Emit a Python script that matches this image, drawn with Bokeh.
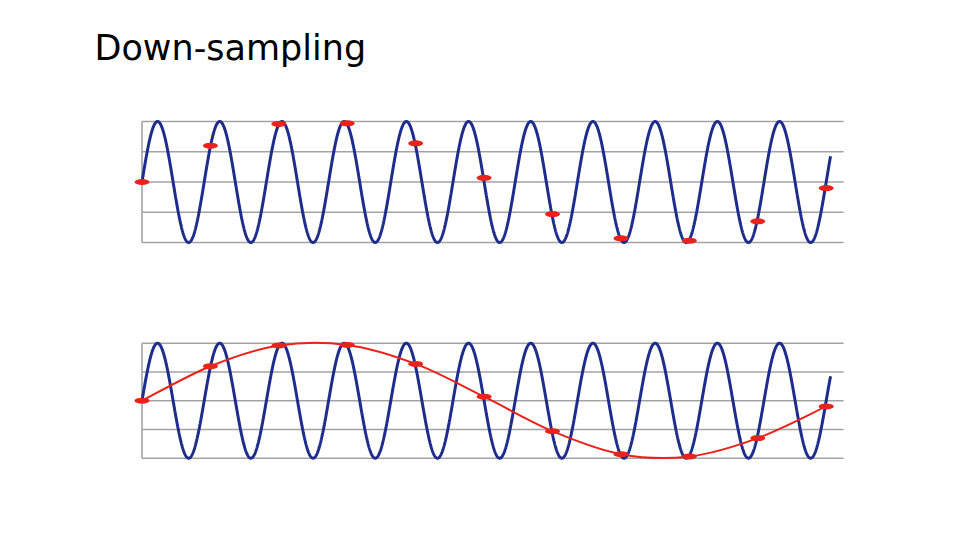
import numpy as np
from bokeh.plotting import figure
from bokeh.models import Range1d, Label
from bokeh.embed import file_html
from bokeh.resources import INLINE

# ---------------- data ----------------
title_text = "Down-sampling"
signal_cycles = 11.07          # length of the blue sine wave, in cycles (amplitude 1)
sample_t = [0.0, 1.1, 2.2, 3.3, 4.4, 5.5, 6.6, 7.7, 8.8, 9.9, 11.0]   # sample times (cycles)
sample_y = [0.0, 0.6, 0.96, 0.97, 0.64, 0.07, -0.53, -0.93, -0.97, -0.65, -0.1]
grid_y = [-1.0, -0.5, 0.0, 0.5, 1.0]
axis_x_end = 11.28

# ---------------- layout (screen pixels) ----------------
W, H, M = 944, 524, 0      # M: canvas offset on the page as observed
x0_px, px_per_cycle = 141.5, 62.2
top_hi_px, top_lo_px = 121.0, 242.0
bot_hi_px, bot_lo_px = 342.7, 457.7

BLUE = "#1e2d8c"
RED = "#e8231b"
GRID = "#a3a3a3"


def yrange(hi_px, lo_px):
    s = (lo_px - hi_px) / 2.0
    c = (hi_px + lo_px) / 2.0
    return Range1d(-(M + H - c) / s, (c - M) / s)


x_start = -(x0_px - M) / px_per_cycle
p = figure(width=W, height=H, output_backend="svg", toolbar_location=None,
           x_axis_type=None, y_axis_type=None, min_border=0,
           x_range=Range1d(x_start, x_start + W / px_per_cycle),
           y_range=yrange(top_hi_px, top_lo_px))
p.extra_y_ranges = {"lower": yrange(bot_hi_px, bot_lo_px)}
p.outline_line_color = None
p.background_fill_color = "white"
p.border_fill_color = "white"

t = np.linspace(0, signal_cycles, 3000)
wave = np.sin(2 * np.pi * t)

bez = {k: [] for k in ["x0", "y0", "x1", "y1", "cx0", "cy0", "cx1", "cy1"]}
n = len(sample_t)
for i in range(n - 1):
    a = max(i - 1, 0)
    d = min(i + 2, n - 1)
    bez["x0"].append(sample_t[i]); bez["y0"].append(sample_y[i])
    bez["x1"].append(sample_t[i + 1]); bez["y1"].append(sample_y[i + 1])
    bez["cx0"].append(sample_t[i] + (sample_t[i + 1] - sample_t[a]) / 6)
    bez["cy0"].append(sample_y[i] + (sample_y[i + 1] - sample_y[a]) / 6)
    bez["cx1"].append(sample_t[i + 1] - (sample_t[d] - sample_t[i]) / 6)
    bez["cy1"].append(sample_y[i + 1] - (sample_y[d] - sample_y[i]) / 6)

for rn in ["default", "lower"]:
    p.segment(x0=0, y0=grid_y, x1=axis_x_end, y1=grid_y, line_color=GRID,
              line_width=1.6, y_range_name=rn)
    p.segment(x0=[0], y0=[-1], x1=[0], y1=[1], line_color=GRID,
              line_width=1.6, y_range_name=rn)
    p.line(t, wave, line_color=BLUE, line_width=3, y_range_name=rn)
    if rn == "lower":
        p.bezier(line_color=RED, line_width=2, y_range_name=rn, **bez)
    p.ellipse(x=sample_t, y=sample_y, width=15, height=6,
              width_units="screen", height_units="screen",
              fill_color=RED, line_color=None, y_range_name=rn)

p.add_layout(Label(x=94, y=H - 59.3 + 12, x_units="screen", y_units="screen",
                   text=title_text, text_font="DejaVu Sans", text_font_size="35px",
                   text_baseline="alphabetic", text_color="black"))

open("out.html", "w").write(file_html(p, INLINE))
